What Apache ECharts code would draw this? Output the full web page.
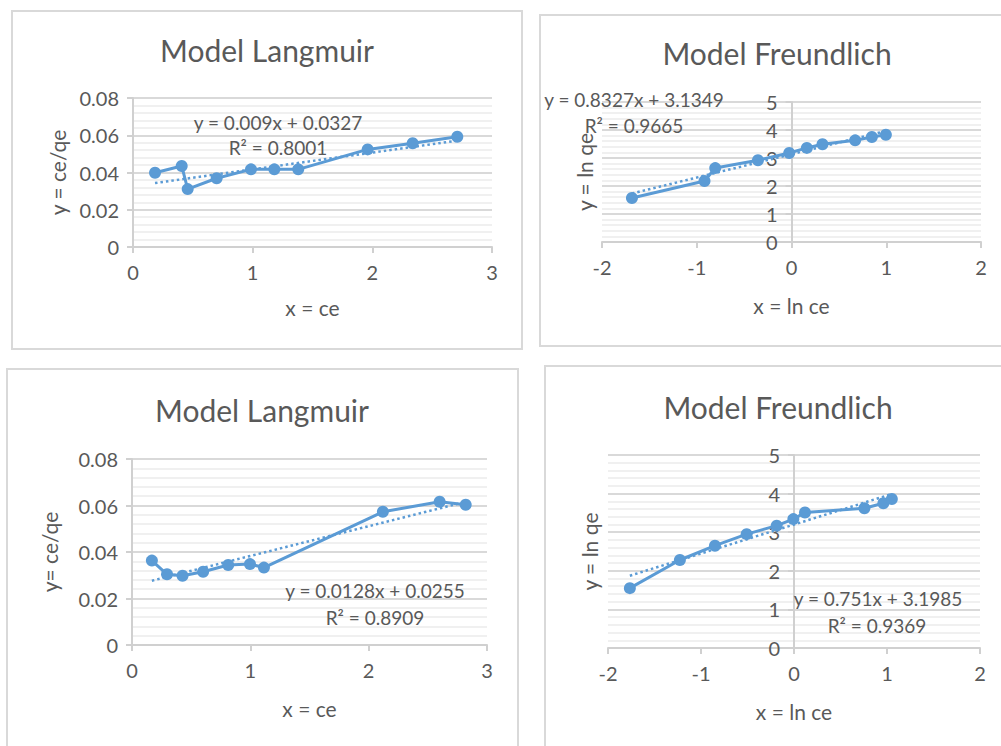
<!DOCTYPE html>
<html>
<head>
<meta charset="utf-8">
<style>
  html, body { margin: 0; padding: 0; background: #fff; }
  #chart { width: 1001px; height: 746px; }
</style>
<script src="https://cdn.jsdelivr.net/npm/echarts@6/dist/echarts.min.js"></script>
</head>
<body>
<div id="chart"></div>
<script>
// top-left: Langmuir (set 1)
const lang1Ce = [0.184, 0.407, 0.457, 0.699, 0.986, 1.181, 1.381, 1.961, 2.337, 2.71];
const lang1Y = [0.0399, 0.0435, 0.0311, 0.0369, 0.0417, 0.0417, 0.0417, 0.0524, 0.0557, 0.0592];
const lang1Trend = [0.009, 0.0327];
const lang1Text = ['y = 0.009x + 0.0327', 'R² = 0.8001'];

// top-right: Freundlich (set 1)
const freu1X = [-1.684, -0.918, -0.805, -0.354, -0.024, 0.162, 0.327, 0.672, 0.848, 0.996];
const freu1Y = [1.571, 2.18, 2.64, 2.92, 3.18, 3.36, 3.49, 3.63, 3.75, 3.83];
const freu1Trend = [0.8327, 3.1349];
const freu1Text = ['y = 0.8327x + 3.1349', 'R² = 0.9665'];

// bottom-left: Langmuir (set 2)
const lang2Ce = [0.168, 0.296, 0.427, 0.601, 0.813, 0.997, 1.115, 2.12, 2.6, 2.82];
const lang2Y = [0.0363, 0.0304, 0.0298, 0.0315, 0.0344, 0.0348, 0.0333, 0.0573, 0.0616, 0.0603];
const lang2Trend = [0.0128, 0.0255];
const lang2Text = ['y = 0.0128x + 0.0255', 'R² = 0.8909'];

// bottom-right: Freundlich (set 2)
const freu2X = [-1.765, -1.227, -0.85, -0.509, -0.186, -0.007, 0.118, 0.757, 0.961, 1.052];
const freu2Y = [1.55, 2.28, 2.65, 2.95, 3.17, 3.34, 3.51, 3.62, 3.75, 3.86];
const freu2Trend = [0.751, 3.1985];
const freu2Text = ['y = 0.751x + 3.1985', 'R² = 0.9369'];

const langXTicks = [0, 3, 1];      // min, max, interval
const langYTicks = [0, 0.08, 0.02];
const freuXTicks = [-2, 2, 1];
const freuYTicks = [0, 5, 1];

const BLUE = '#5b9bd5';
const TXT = '#595959';
const FONT = 'Lato, "Open Sans", sans-serif';

const chart = echarts.init(document.getElementById('chart'), null, { renderer: 'svg' });

function pairs(xs, ys) {
  return xs.map((x, i) => [x, ys[i]]);
}
function trendPts(xs, t) {
  const a = Math.min(...xs), b = Math.max(...xs);
  return [[a, t[0] * a + t[1]], [b, t[0] * b + t[1]]];
}

function xAxisOf(idx, ticks, name, gap) {
  return {
    gridIndex: idx, type: 'value', min: ticks[0], max: ticks[1], interval: ticks[2],
    name: name, nameLocation: 'middle', nameGap: gap,
    nameTextStyle: { color: TXT, fontSize: 21, fontFamily: FONT },
    axisLine: { onZero: false, lineStyle: { color: '#d0d0d0', width: 2 } },
    axisTick: { show: true, length: 6, lineStyle: { color: '#d0d0d0', width: 2 } },
    axisLabel: { color: TXT, fontSize: 20, fontFamily: FONT, margin: 15 },
    splitLine: { show: false }
  };
}
// offset shifts the y axis right so it sits on x = 0 (Freundlich panels)
function yAxisOf(idx, ticks, name, gap, offset) {
  return {
    gridIndex: idx, type: 'value', min: ticks[0], max: ticks[1], interval: ticks[2],
    position: 'left', offset: offset || 0,
    name: name, nameLocation: 'middle', nameGap: gap,
    nameTextStyle: { color: TXT, fontSize: 21, fontFamily: FONT },
    axisLine: { show: true, onZero: false, lineStyle: { color: '#d0d0d0', width: 2 } },
    axisTick: { show: true, length: 6, lineStyle: { color: '#d0d0d0', width: 2 } },
    axisLabel: { color: TXT, fontSize: 20, fontFamily: FONT, margin: 14 },
    splitLine: { show: true, lineStyle: { color: '#d9d9d9', width: 2 } },
    minorTick: { show: false, splitNumber: 5 },
    minorSplitLine: { show: true, lineStyle: { color: '#f0f0f0', width: 2 } }
  };
}
function seriesOf(idx, data, trend) {
  return [
    {
      type: 'line', xAxisIndex: idx, yAxisIndex: idx, data: trend,
      symbol: 'none', silent: true,
      lineStyle: { color: BLUE, width: 2.5, type: [2.5, 3] }
    },
    {
      type: 'line', xAxisIndex: idx, yAxisIndex: idx, data: data,
      symbol: 'circle', symbolSize: 12,
      itemStyle: { color: BLUE },
      lineStyle: { color: BLUE, width: 3 }
    }
  ];
}
function label(x, y, text, size) {
  return {
    type: 'text', x: x, y: y, silent: true, z: 100,
    style: { text: text, fill: TXT, font: size + 'px ' + FONT, textAlign: 'center', textVerticalAlign: 'middle' }
  };
}
function frame(x, y, w, h) {
  return { type: 'rect', shape: { x: x, y: y, width: w, height: h }, silent: true, z: -10,
    style: { fill: 'none', stroke: '#d9d9d9', lineWidth: 2 } };
}

const option = {
  animation: false,
  grid: [
    { left: 133, top: 98, width: 359, height: 149 },
    { left: 602, top: 102, width: 379, height: 140 },
    { left: 132, top: 459, width: 355, height: 186 },
    { left: 608, top: 455, width: 372, height: 193 }
  ],
  xAxis: [
    xAxisOf(0, langXTicks, 'x = ce', 50),
    xAxisOf(1, freuXTicks, 'x = ln ce', 53),
    xAxisOf(2, langXTicks, 'x = ce', 53),
    xAxisOf(3, freuXTicks, 'x = ln ce', 53)
  ],
  yAxis: [
    yAxisOf(0, langYTicks, 'y = ce/qe', 65),
    yAxisOf(1, freuYTicks, 'y = ln qe', 197, -189.5),
    yAxisOf(2, langYTicks, 'y= ce/qe', 72),
    yAxisOf(3, freuYTicks, 'y = ln qe', 194, -186)
  ],
  series: [].concat(
    seriesOf(0, pairs(lang1Ce, lang1Y), trendPts(lang1Ce, lang1Trend)),
    seriesOf(1, pairs(freu1X, freu1Y), trendPts(freu1X, freu1Trend)),
    seriesOf(2, pairs(lang2Ce, lang2Y), trendPts(lang2Ce, lang2Trend)),
    seriesOf(3, pairs(freu2X, freu2Y), trendPts(freu2X, freu2Trend))
  ),
  graphic: [
    frame(12, 11, 510, 338),
    frame(540, 15, 480, 331),
    frame(7, 369, 511, 400),
    frame(545, 366, 480, 400),
    label(267, 50, 'Model Langmuir', 30),
    label(777, 53, 'Model Freundlich', 30),
    label(262, 410, 'Model Langmuir', 30),
    label(778, 407, 'Model Freundlich', 30),
    label(278, 122, lang1Text[0], 19),
    label(278, 147, lang1Text[1], 19),
    label(634, 99, freu1Text[0], 19),
    label(634, 125, freu1Text[1], 19),
    label(375, 590, lang2Text[0], 19),
    label(375, 617, lang2Text[1], 19),
    label(878, 598, freu2Text[0], 19),
    label(877, 625, freu2Text[1], 19)
  ]
};
chart.setOption(option);
</script>
</body>
</html>
